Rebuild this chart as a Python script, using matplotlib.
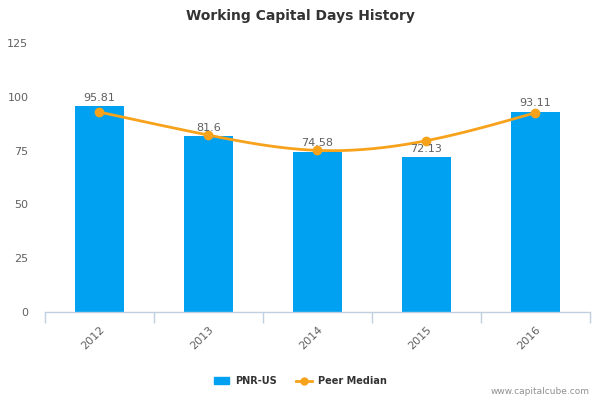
import numpy as np
import matplotlib
matplotlib.use("Agg")
import matplotlib.pyplot as plt
from matplotlib.lines import Line2D
from matplotlib.patches import Patch

years = ["2012", "2013", "2014", "2015", "2016"]
pnr_values = [95.81, 81.6, 74.58, 72.13, 93.11]
peer_median = [92.9, 82.2, 75.1, 79.6, 92.6]
y_ticks = [0, 25, 50, 75, 100, 125]

bar_color = "#00A1F1"
line_color = "#F7A21B"
text_gray = "#606060"
axis_color = "#C0D0E0"


def natural_spline(x, y, n=200):
    x = np.asarray(x, float)
    y = np.asarray(y, float)
    k = len(x)
    h = np.diff(x)
    A = np.zeros((k, k))
    b = np.zeros(k)
    A[0, 0] = 1
    A[-1, -1] = 1
    for i in range(1, k - 1):
        A[i, i - 1] = h[i - 1]
        A[i, i] = 2 * (h[i - 1] + h[i])
        A[i, i + 1] = h[i]
        b[i] = 3 * ((y[i + 1] - y[i]) / h[i] - (y[i] - y[i - 1]) / h[i - 1])
    c = np.linalg.solve(A, b)
    xs = np.linspace(x[0], x[-1], n)
    ys = np.empty_like(xs)
    for j, xv in enumerate(xs):
        i = min(np.searchsorted(x, xv, side="right") - 1, k - 2)
        dx = xv - x[i]
        bi = (y[i + 1] - y[i]) / h[i] - h[i] * (2 * c[i] + c[i + 1]) / 3
        di = (c[i + 1] - c[i]) / (3 * h[i])
        ys[j] = y[i] + bi * dx + c[i] * dx ** 2 + di * dx ** 3
    return xs, ys


fig = plt.figure(figsize=(6, 4), dpi=100)
ax = fig.add_axes([0.075, 0.22, 0.908, 0.6725])

x = np.arange(len(years))
ax.bar(x, pnr_values, width=0.45, color=bar_color, zorder=2)
for xi, v in zip(x, pnr_values):
    ax.text(xi, v + 1.5, f"{v:g}", ha="center", va="bottom",
            fontsize=8, color=text_gray, zorder=5)

xs, ys = natural_spline(x, peer_median)
ax.plot(xs, ys, color=line_color, lw=2, zorder=3)
ax.plot(x, peer_median, "o", color=line_color, ms=6, zorder=4)

ax.set_xlim(-0.5, len(years) - 0.5)
ax.set_ylim(0, 125)
ax.set_yticks(y_ticks)
ax.set_yticklabels([str(t) for t in y_ticks])
ax.tick_params(axis="y", length=0, labelsize=8, labelcolor=text_gray, pad=12)

ax.set_xticks(x)
ax.set_xticklabels(years, rotation=45, ha="right", rotation_mode="anchor")
ax.tick_params(axis="x", length=0, labelsize=8, labelcolor=text_gray, pad=9)
ax.set_xticks(np.arange(-0.5, len(years)), minor=True)
ax.tick_params(axis="x", which="minor", length=8, color=axis_color, width=1)

for s in ["top", "right", "left"]:
    ax.spines[s].set_visible(False)
ax.spines["bottom"].set_color(axis_color)
ax.spines["bottom"].set_linewidth(1)

fig.text(0.5, 0.96, "Working Capital Days History", ha="center", va="center",
         fontsize=10, fontweight="bold", color="#333333")

handles = [Patch(facecolor=bar_color, edgecolor=bar_color),
           Line2D([0], [0], color=line_color, lw=2, marker="o", ms=5)]
leg = fig.legend(handles, ["PNR-US", "Peer Median"], loc="center",
                 bbox_to_anchor=(0.5, 0.047), ncol=2, frameon=False,
                 prop={"size": 7, "weight": "bold"}, handlelength=1.6,
                 columnspacing=2.0, handletextpad=0.6)
for t in leg.get_texts():
    t.set_color("#333333")

fig.text(0.983, 0.02, "www.capitalcube.com", ha="right", va="center",
         fontsize=6.5, color="#909090")

fig.savefig("out.png", dpi=100)
